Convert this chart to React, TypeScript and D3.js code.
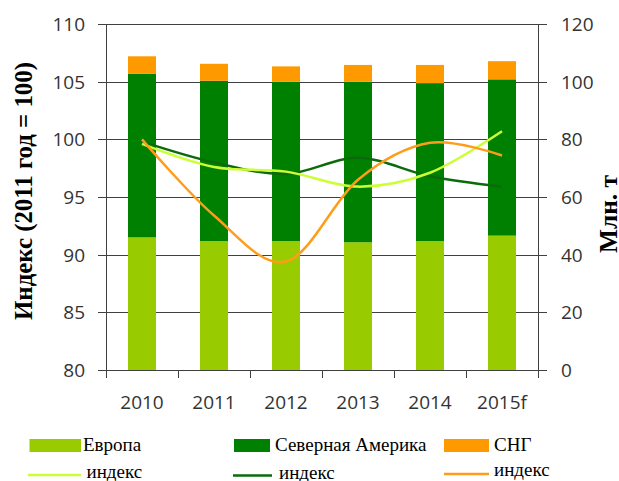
import React from 'react';
import * as d3 from 'd3';

const categories = ['2010', '2011', '2012', '2013', '2014', '2015f'];
const europe = [46.0, 44.7, 44.7, 44.3, 44.7, 46.6];
const northAmerica = [56.7, 55.6, 55.3, 55.7, 54.8, 54.2];
const cis = [6.1, 5.9, 5.3, 5.8, 6.3, 6.3];
const europeIndex = [99.6, 97.6, 97.2, 95.9, 97.1, 100.7];
const naIndex = [99.8, 98.0, 97.0, 98.4, 96.8, 95.9];
const cisIndex = [100, 93.4, 89.4, 96.5, 99.7, 98.6];
const leftTicks = [80, 85, 90, 95, 100, 105, 110];
const rightTicks = [0, 20, 40, 60, 80, 100, 120];

const W = 619, H = 481;
const L = 106, R = 538, T = 24, B = 370;

const C_EU = '#99CC00', C_NA = '#008000', C_CIS = '#FF9900';
const C_EU_L = '#CCFF33', C_NA_L = '#0B6B0B', C_CIS_L = '#FF9D1A';

export default function App() {
  const x = d3.scaleBand<string>().domain(categories).range([L, R]).paddingInner(0.611).paddingOuter(0.3055);
  const yL = d3.scaleLinear().domain([80, 110]).range([B, T]);
  const yR = d3.scaleLinear().domain([0, 120]).range([B, T]);

  const rows = categories.map((c, i) => ({ cat: c, eu: europe[i], na: northAmerica[i], cis: cis[i] }));
  const stack = d3.stack<any>().keys(['eu', 'na', 'cis'])(rows);
  const colors: Record<string, string> = { eu: C_EU, na: C_NA, cis: C_CIS };

  const cx = (c: string) => (x(c) as number) + x.bandwidth() / 2;
  const line = d3.line<number>()
    .x((_, i) => cx(categories[i]))
    .y((v) => yL(v))
    .curve(d3.curveCatmullRom.alpha(0));

  const sans = '"Open Sans", sans-serif';
  const serif = '"Liberation Serif", "Times New Roman", serif';
  const xTicks = d3.range(categories.length + 1).map((i) => L + (i * (R - L)) / categories.length);

  return (
    <svg width={W} height={H} style={{ position: 'absolute', left: 0, top: 0, background: '#fff' }}>
      {/* gridlines */}
      {leftTicks.filter((t) => t !== 80).map((t) => (
        <line key={t} x1={98} x2={547} y1={Math.round(yL(t)) + 0.5} y2={Math.round(yL(t)) + 0.5} stroke="#404040" strokeWidth={1} />
      ))}
      {/* bars */}
      {stack.map((s) => (
        <g key={s.key} fill={colors[s.key]}>
          {s.map((d: any, i: number) => (
            <rect key={i} x={x(categories[i])} width={x.bandwidth()} y={yR(d[1])} height={yR(d[0]) - yR(d[1])} />
          ))}
        </g>
      ))}
      {/* lines */}
      <path d={line(naIndex) || ''} fill="none" stroke={C_NA_L} strokeWidth={2.5} />
      <path d={line(europeIndex) || ''} fill="none" stroke={C_EU_L} strokeWidth={2.5} />
      <path d={line(cisIndex) || ''} fill="none" stroke={C_CIS_L} strokeWidth={2.5} />
      {/* axes */}
      <line x1={L + 0.5} x2={L + 0.5} y1={T} y2={B + 8} stroke="#404040" />
      <line x1={R + 0.5} x2={R + 0.5} y1={T} y2={B + 8} stroke="#404040" />
      <line x1={98} x2={547} y1={B + 0.5} y2={B + 0.5} stroke="#404040" />
      {xTicks.map((t, i) => (
        <line key={i} x1={Math.round(t) + 0.5} x2={Math.round(t) + 0.5} y1={B} y2={B + 8} stroke="#404040" />
      ))}
      {leftTicks.map((t) => (
        <text key={t} x={85} y={yL(t) + 7} textAnchor="end" fontFamily={sans} fontSize={19} fill="#333">{t}</text>
      ))}
      {rightTicks.map((t) => (
        <text key={t} x={561} y={yR(t) + 7} textAnchor="start" fontFamily={sans} fontSize={19} fill="#333">{t}</text>
      ))}
      {categories.map((c) => (
        <text key={c} x={cx(c)} y={409} textAnchor="middle" fontFamily={sans} fontSize={19} fill="#333">{c}</text>
      ))}
      {/* axis titles */}
      <text transform="translate(32,191) rotate(-90)" textAnchor="middle" fontFamily={serif} fontWeight="bold" fontSize={25} textLength={258} lengthAdjust="spacingAndGlyphs">Индекс (2011 год = 100)</text>
      <text transform="translate(617,214) rotate(-90)" textAnchor="middle" fontFamily={serif} fontWeight="bold" fontSize={25} textLength={78} lengthAdjust="spacingAndGlyphs">Млн. т</text>
      {/* legend */}
      <rect x={29.5} y={439} width={51.5} height={13} fill={C_EU} />
      <text x={83} y={451} fontFamily={serif} fontSize={19}>Европа</text>
      <rect x={234} y={439} width={36} height={13} fill={C_NA} />
      <text x={275} y={451} fontFamily={serif} fontSize={19}>Северная Америка</text>
      <rect x={444} y={439} width={45} height={13} fill={C_CIS} />
      <text x={494} y={451} fontFamily={serif} fontSize={19}>СНГ</text>
      <line x1={28} x2={81} y1={475} y2={475} stroke={C_EU_L} strokeWidth={2.5} />
      <text x={86.5} y={478} fontFamily={serif} fontSize={19}>индекс</text>
      <line x1={233} x2={272} y1={475.5} y2={475.5} stroke={C_NA_L} strokeWidth={2.5} />
      <text x={279} y={479} fontFamily={serif} fontSize={19}>индекс</text>
      <line x1={444} x2={489} y1={474} y2={474} stroke={C_CIS_L} strokeWidth={2.5} />
      <text x={494} y={476} fontFamily={serif} fontSize={19}>индекс</text>
    </svg>
  );
}
